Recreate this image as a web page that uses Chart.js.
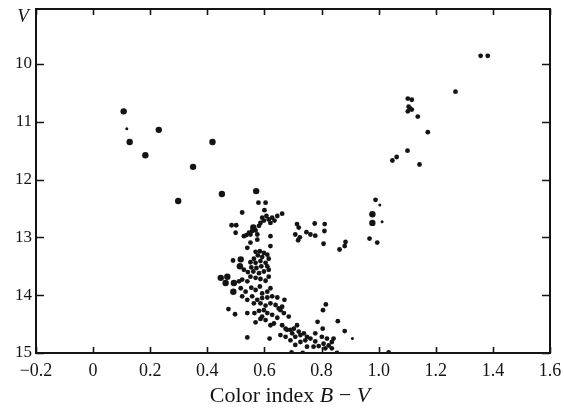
<!DOCTYPE html>
<html>
<head>
<meta charset="utf-8">
<script src="https://cdn.jsdelivr.net/npm/chart.js@4.4.1/dist/chart.umd.min.js"></script>
<style>
  html, body { margin: 0; padding: 0; background: #fff; }
  #wrap { width: 564px; height: 411px; }
</style>
</head>
<body>
<div id="wrap"><canvas id="cmd"></canvas></div>
<script>
// tick labels
const xTicks = [-0.2, 0, 0.2, 0.4, 0.6, 0.8, 1.0, 1.2, 1.4, 1.6];
const yTicks = [10, 11, 12, 13, 14, 15];

// big dots (B-V, V)
const bigBV = [0.107, 0.230, 0.128, 0.418, 0.183, 0.350, 0.298, 0.451, 0.571,
  0.978, 0.978, 0.517, 0.514, 0.447, 0.470, 0.464, 0.493, 0.491, 0.561];
const bigV = [10.82, 11.14, 11.35, 11.35, 11.58, 11.78, 12.37, 12.25, 12.20,
  12.60, 12.75, 13.38, 13.50, 13.70, 13.68, 13.79, 13.79, 13.94, 12.83];

// small dots
const smallBV = [0.118, 1.004, 1.012, 0.908];
const smallV = [11.12, 12.44, 12.73, 14.75];

// regular dots
const starBV = [
  1.357, 1.382, 1.269, 1.102, 1.116, 1.105, 1.116, 1.102, 1.110, 1.137, 1.172, 1.101, 1.063, 1.048, 1.143, 0.989, 0.968, 0.995,
  0.579, 0.604,
  0.714, 0.720, 0.776, 0.811, 0.810, 0.708, 0.724, 0.718, 0.747, 0.761, 0.778, 0.807, 0.863, 0.881, 0.884,
  0.522, 0.600, 0.607, 0.592, 0.598, 0.615, 0.627, 0.645, 0.662, 0.635, 0.621, 0.586, 0.581, 0.563, 0.569, 0.557, 0.546, 0.551, 0.537, 0.528, 0.575, 0.485, 0.501, 0.499, 0.621, 0.551, 0.575, 0.540, 0.621,
  0.569, 0.584, 0.598, 0.610, 0.577, 0.592, 0.615, 0.563, 0.551, 0.569, 0.586, 0.604, 0.610, 0.589, 0.572, 0.554, 0.490, 0.528, 0.542, 0.561, 0.581, 0.598, 0.615, 0.551, 0.569, 0.586, 0.604, 0.615, 0.540, 0.522, 0.511, 0.517, 0.534, 0.554, 0.569, 0.584, 0.592, 0.610, 0.621, 0.522, 0.540, 0.557, 0.575, 0.592, 0.610, 0.627, 0.645,
  0.563, 0.586, 0.604, 0.621, 0.639, 0.650, 0.662, 0.598, 0.581, 0.610, 0.627, 0.645, 0.592, 0.604, 0.586, 0.474, 0.497, 0.540, 0.565, 0.569, 0.670, 0.656, 0.668, 0.685, 0.621, 0.633, 0.662, 0.540, 0.618,
  0.674, 0.691, 0.703, 0.714, 0.720, 0.697, 0.708, 0.726, 0.738, 0.749, 0.761, 0.743, 0.726, 0.708, 0.691, 0.674, 0.656, 0.778, 0.790, 0.772, 0.807, 0.825, 0.836, 0.842, 0.819, 0.801, 0.778, 0.786, 0.804, 0.857, 0.881, 0.815, 0.805, 0.695, 0.734, 0.854, 1.035, 0.813, 0.836, 0.749, 0.679
];
const starV = [
  9.86, 9.86, 10.48, 10.60, 10.62, 10.74, 10.79, 10.82, 10.77, 10.91, 11.18, 11.50, 11.61, 11.67, 11.74, 12.35, 13.02, 13.09,
  12.40, 12.40,
  12.77, 12.83, 12.76, 12.77, 12.89, 12.95, 13.00, 13.05, 12.91, 12.95, 12.97, 13.11, 13.21, 13.15, 13.08,
  12.57, 12.53, 12.63, 12.66, 12.71, 12.69, 12.66, 12.63, 12.59, 12.71, 12.75, 12.75, 12.80, 12.86, 12.88, 12.89, 12.92, 12.95, 12.96, 12.98, 12.95, 12.79, 12.79, 12.92, 12.98, 13.09, 13.04, 13.18, 13.15,
  13.25, 13.24, 13.27, 13.30, 13.31, 13.34, 13.37, 13.37, 13.43, 13.44, 13.41, 13.44, 13.50, 13.50, 13.53, 13.52, 13.40, 13.56, 13.60, 13.59, 13.62, 13.59, 13.56, 13.68, 13.70, 13.72, 13.75, 13.68, 13.76, 13.73, 13.76, 13.88, 13.94, 13.87, 13.91, 13.85, 13.97, 13.94, 13.88, 14.02, 14.08, 14.02, 14.08, 14.05, 14.04, 14.02, 14.04,
  14.14, 14.14, 14.18, 14.14, 14.17, 14.23, 14.20, 14.26, 14.27, 14.31, 14.34, 14.39, 14.37, 14.43, 14.41, 14.24, 14.33, 14.31, 14.31, 14.47, 14.08, 14.26, 14.31, 14.37, 14.52, 14.49, 14.52, 14.73, 14.75,
  14.58, 14.60, 14.58, 14.52, 14.63, 14.66, 14.72, 14.69, 14.66, 14.72, 14.75, 14.78, 14.81, 14.86, 14.78, 14.72, 14.69, 14.80, 14.88, 14.89, 14.84, 14.87, 14.81, 14.75, 14.75, 14.72, 14.66, 14.46, 14.58, 14.45, 14.62, 14.16, 14.26, 14.99, 15.0, 15.0, 14.99, 14.92, 14.92, 14.89, 14.60
];

const pts = (xs, ys) => xs.map((x, i) => ({ x: x, y: ys[i] }));
const ink = '#141414';
const serif = "'Liberation Serif', 'DejaVu Serif', serif";

const framePlugin = {
  id: 'frame',
  afterDraw(chart) {
    const c = chart.ctx, a = chart.chartArea;
    const xs = chart.scales.x, ys = chart.scales.y;
    c.save();
    c.strokeStyle = ink;
    c.lineWidth = 2;
    c.strokeRect(a.left, a.top, a.right - a.left, a.bottom - a.top);
    c.beginPath();
    xTicks.forEach(v => {
      const px = Math.round(xs.getPixelForValue(v)) + 0.5;
      c.moveTo(px, a.bottom); c.lineTo(px, a.bottom - 6);
      c.moveTo(px, a.top); c.lineTo(px, a.top + 6);
    });
    yTicks.forEach(v => {
      const py = Math.round(ys.getPixelForValue(v)) + 0.5;
      c.moveTo(a.left, py); c.lineTo(a.left + 8, py);
      c.moveTo(a.right, py); c.lineTo(a.right - 8, py);
    });
    c.lineWidth = 1.6;
    c.stroke();

    // axis titles
    c.fillStyle = ink;
    c.textBaseline = 'middle';
    c.font = 'italic 19px ' + serif;
    c.textAlign = 'center';
    c.fillText('V', 23, 17);

    const parts = [
      ['Color index ', '22px ' + serif],
      ['B', 'italic 22px ' + serif],
      [' \u2212 ', '22px ' + serif],
      ['V', 'italic 22px ' + serif]
    ];
    let total = 0;
    parts.forEach(p => { c.font = p[1]; total += c.measureText(p[0]).width; });
    let x = 290 - total / 2;
    c.textAlign = 'left';
    parts.forEach(p => {
      c.font = p[1];
      c.fillText(p[0], x, 396);
      x += c.measureText(p[0]).width;
    });
    c.restore();
  }
};

new Chart(document.getElementById('cmd').getContext('2d'), {
  type: 'scatter',
  data: {
    datasets: [
      { label: 'stars', data: pts(starBV, starV), pointRadius: 2.4, backgroundColor: ink, borderWidth: 0 },
      { label: 'bright', data: pts(bigBV, bigV), pointRadius: 3.2, backgroundColor: ink, borderWidth: 0 },
      { label: 'faint', data: pts(smallBV, smallV), pointRadius: 1.5, backgroundColor: ink, borderWidth: 0 }
    ]
  },
  options: {
    responsive: true,
    maintainAspectRatio: false,
    animation: false,
    layout: { padding: { left: 15, right: 14, top: 9, bottom: 31 } },
    plugins: {
      legend: { display: false },
      tooltip: { enabled: false }
    },
    scales: {
      x: {
        type: 'linear',
        min: -0.2,
        max: 1.6,
        afterBuildTicks: s => { s.ticks = xTicks.map(v => ({ value: v })); },
        afterFit: s => { s.height = 27; s.paddingLeft = 0; s.paddingRight = 0; },
        grid: { display: false, drawTicks: false },
        border: { display: false },
        ticks: {
          color: ink,
          padding: 7,
          font: { family: serif, size: 18 },
          callback: v => v === 0 ? '0' : (v < 0 ? '\u2212' + Math.abs(v).toFixed(1) : v.toFixed(1))
        }
      },
      y: {
        type: 'linear',
        reverse: true,
        min: 9.05,
        max: 15,
        afterBuildTicks: s => { s.ticks = yTicks.map(v => ({ value: v })); },
        afterFit: s => { s.width = 21; s.paddingTop = 0; s.paddingBottom = 0; },
        grid: { display: false, drawTicks: false },
        border: { display: false },
        ticks: {
          color: ink,
          padding: 4,
          font: { family: serif, size: 17 },
          callback: v => String(v)
        }
      }
    }
  },
  plugins: [framePlugin]
});
</script>
</body>
</html>
